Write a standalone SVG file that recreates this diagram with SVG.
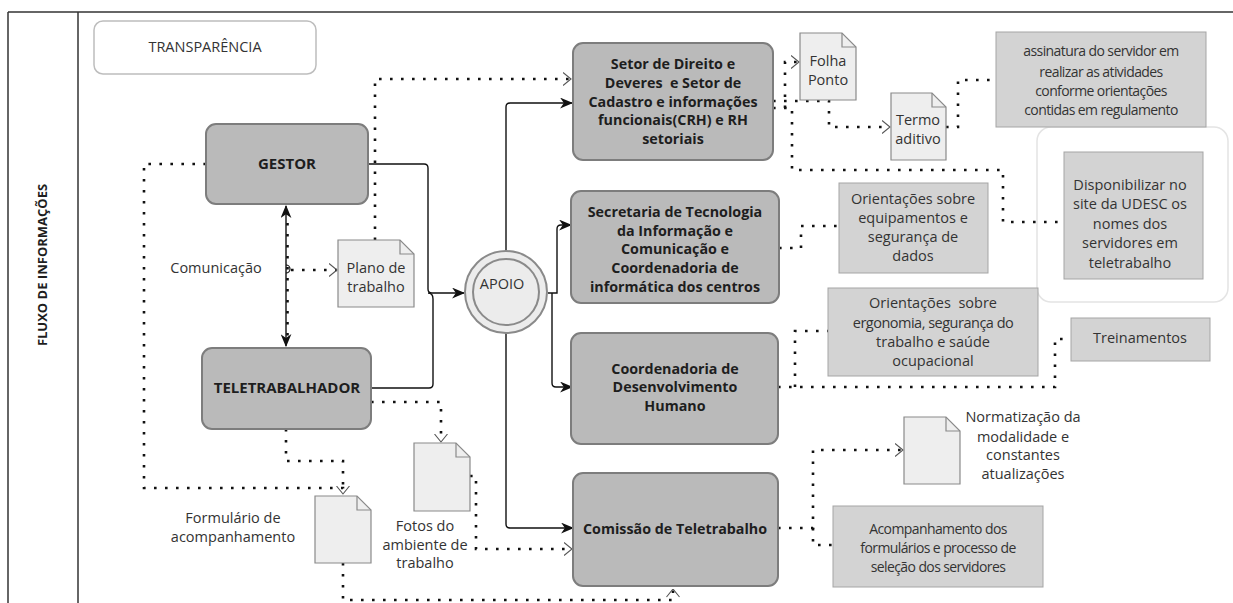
<svg xmlns="http://www.w3.org/2000/svg" width="1233" height="603" viewBox="0 0 1233 603">
<style>
text{font-family:"Open Sans","Noto Sans",sans-serif;fill:#333;text-anchor:middle}
.reg{font-size:14.5px}
.tight{font-size:14px;letter-spacing:-0.6px}
.bold{font-size:14.3px;font-weight:bold;fill:#1e1e1e}
.big{font-size:15px;font-weight:bold;fill:#1e1e1e}
.lane{font-size:13px;font-weight:bold;fill:#1e1e1e}
.main{fill:#bababa;stroke:#7d7d7d;stroke-width:2}
.info{fill:#d3d3d3;stroke:#a5a5a5;stroke-width:1}
.doc{fill:#eeeeee;stroke:#8a8a8a;stroke-width:1.2}
.fold{fill:none;stroke:#8a8a8a;stroke-width:1.2}
.solid{fill:none;stroke:#111;stroke-width:1.4}
.dot{fill:none;stroke:#111;stroke-width:2.6;stroke-dasharray:2.6 8.4}
.frame{fill:none;stroke:#333;stroke-width:1.5}
</style>
<defs>
<marker id="fa" viewBox="0 0 12 10" markerWidth="13" markerHeight="11" refX="11" refY="5" orient="auto" markerUnits="userSpaceOnUse">
<path d="M0,0 L12,5 L0,10 L3.5,5 Z" fill="#111"/>
</marker>
<marker id="fas" viewBox="0 0 12 10" markerWidth="13" markerHeight="11" refX="11" refY="5" orient="auto-start-reverse" markerUnits="userSpaceOnUse">
<path d="M0,0 L12,5 L0,10 L3.5,5 Z" fill="#111"/>
</marker>
<marker id="oa" viewBox="0 0 9 14" markerWidth="9" markerHeight="14" refX="8.5" refY="7" orient="auto" markerUnits="userSpaceOnUse">
<path d="M0.5,0.5 L8.5,7 L0.5,13.5" fill="none" stroke="#555" stroke-width="1.1"/>
</marker>
</defs>

<g id="frame">
<line class="frame" x1="8" y1="12" x2="1233" y2="12"/>
<line class="frame" x1="8" y1="12" x2="8" y2="603"/>
<line class="frame" x1="78" y1="12" x2="78" y2="603"/>
<text class="lane" transform="translate(47,265) rotate(-90)">FLUXO DE INFORMAÇÕES</text>
</g>

<g id="transparencia">
<rect x="94" y="21" width="222" height="53" rx="9" fill="#fff" stroke="#bdbdbd" stroke-width="1.5"/>
<text class="reg" x="205" y="52">TRANSPARÊNCIA</text>
</g>

<g id="disponibilizar-container">
<rect x="1037" y="127" width="191" height="175" rx="14" fill="#fff" stroke="#e4e4e4" stroke-width="1.5"/>
</g>

<g id="connectors">
<path class="solid" d="M368,164 H424 Q428,164 428,168 V289 Q428,293 432,293 H464" marker-end="url(#fa)"/>
<path class="solid" d="M371,388 H429 Q433,388 433,384 V299 Q433,293 428,293"/>
<path class="solid" d="M506,252 V107 Q506,103 510,103 H572" marker-end="url(#fa)"/>
<path class="solid" d="M548,293 H557 V229 Q557,225 561,225 H571" marker-end="url(#fa)"/>
<path class="solid" d="M552,293 V383 Q552,387 556,387 H572" marker-end="url(#fa)"/>
<path class="solid" d="M506,333 V524 Q506,528 510,528 H573" marker-end="url(#fa)"/>
<path class="solid" d="M286,206 V346" marker-start="url(#fas)" marker-end="url(#fas)"/>
<path class="dot" d="M287.5,212 V342"/>
<path d="M286,265 A4,4 0 0 1 286,273" fill="none" stroke="#111" stroke-width="1.2"/>
<path class="dot" d="M291,270 H337" marker-end="url(#oa)"/>
<path class="dot" d="M375,240 V79 H571" marker-end="url(#oa)"/>
<path class="dot" d="M206,164 H144 V488 H343 V494" marker-end="url(#oa)"/>
<path class="dot" d="M286,429 V461 H343 V488"/>
<path class="dot" d="M371,402 H441 V442" marker-end="url(#oa)"/>
<path class="dot" d="M470,476 H476 V549 H572" marker-end="url(#oa)"/>
<path class="dot" d="M343,563 V600 H673 V589" marker-end="url(#oa)"/>
<path class="dot" d="M785,108 V62 H799" marker-end="url(#oa)"/>
<path class="dot" d="M773,101 H829 V127 H890" marker-end="url(#oa)"/>
<path class="dot" d="M773,108 H792 V170 H1003 V222 H1063"/>
<path class="dot" d="M946,127 H958 V80 H995"/>
<path class="dot" d="M779,248 H801 V226 H839"/>
<path class="dot" d="M778,387 H1055 V339 H1071"/>
<path class="dot" d="M795,387 V331 H828"/>
<path class="dot" d="M778,528 H813 V450 H903" marker-end="url(#oa)"/>
<path class="dot" d="M813,528 V545 H833"/>
</g>

<g id="gestor">
<rect class="main" x="206" y="124" width="162" height="80" rx="10"/>
<text class="big" x="287" y="169">GESTOR</text>
</g>

<g id="teletrabalhador">
<rect class="main" x="202" y="348" width="169" height="81" rx="10"/>
<text class="big" x="287" y="393">TELETRABALHADOR</text>
</g>

<g id="comunicacao">
<text class="reg" x="216" y="273">Comunicação</text>
</g>

<g id="plano">
<path class="doc" d="M338,240 H400 L414,254 V307 H338 Z"/>
<path class="fold" d="M400,240 V254 H414"/>
<text class="reg" x="376" y="273">Plano de</text>
<text class="reg" x="376" y="292">trabalho</text>
</g>

<g id="apoio">
<circle cx="506" cy="292" r="41" fill="#ececec" stroke="#8a8a8a" stroke-width="2"/>
<circle cx="506" cy="292" r="33" fill="#ececec" stroke="#8a8a8a" stroke-width="2"/>
<text class="reg" x="502" y="289">APOIO</text>
</g>

<g id="setor">
<rect class="main" x="573" y="43" width="200" height="117" rx="10"/>
<text class="bold" x="673" y="69">Setor de Direito e</text>
<text class="bold" x="673" y="88" xml:space="preserve">Deveres  e Setor de</text>
<text class="bold" x="673" y="107">Cadastro e informações</text>
<text class="bold" x="673" y="125">funcionais(CRH) e RH</text>
<text class="bold" x="673" y="144">setoriais</text>
</g>

<g id="secretaria">
<rect class="main" x="571" y="191" width="208" height="112" rx="10"/>
<text class="bold" x="675" y="217">Secretaria de Tecnologia</text>
<text class="bold" x="675" y="236">da Informação e</text>
<text class="bold" x="675" y="254">Comunicação e</text>
<text class="bold" x="675" y="273">Coordenadoria de</text>
<text class="bold" x="675" y="292">informática dos centros</text>
</g>

<g id="coord-dh">
<rect class="main" x="571" y="333" width="207" height="111" rx="10"/>
<text class="bold" x="675" y="374">Coordenadoria de</text>
<text class="bold" x="675" y="392">Desenvolvimento</text>
<text class="bold" x="675" y="411">Humano</text>
</g>

<g id="comissao">
<rect class="main" x="573" y="473" width="205" height="113" rx="10"/>
<text class="bold" x="675" y="534">Comissão de Teletrabalho</text>
</g>

<g id="formulario">
<path class="doc" d="M315,496 H357 L371,510 V563 H315 Z"/>
<path class="fold" d="M357,496 V510 H371"/>
<text class="reg" x="233" y="523">Formulário de</text>
<text class="reg" x="233" y="542">acompanhamento</text>
</g>

<g id="fotos">
<path class="doc" d="M414,443 H456 L470,457 V511 H414 Z"/>
<path class="fold" d="M456,443 V457 H470"/>
<text class="reg" x="425" y="531">Fotos do</text>
<text class="reg" x="425" y="550">ambiente de</text>
<text class="reg" x="425" y="568">trabalho</text>
</g>

<g id="folha-ponto">
<path class="doc" d="M800,33 H842 L856,47 V100 H800 Z"/>
<path class="fold" d="M842,33 V47 H856"/>
<text class="reg" x="828" y="66">Folha</text>
<text class="reg" x="828" y="85">Ponto</text>
</g>

<g id="termo">
<path class="doc" d="M891,93 H932 L946,107 V160 H891 Z"/>
<path class="fold" d="M932,93 V107 H946"/>
<text class="reg" x="918" y="125">Termo</text>
<text class="reg" x="918" y="144">aditivo</text>
</g>

<g id="assinatura">
<rect class="info" x="996" y="32" width="210" height="95"/>
<text class="tight" x="1101" y="56">assinatura do servidor em</text>
<text class="tight" x="1101" y="77">realizar as atividades</text>
<text class="tight" x="1101" y="96">conforme orientações</text>
<text class="tight" x="1101" y="115">contidas em regulamento</text>
</g>

<g id="disponibilizar">
<rect class="info" x="1064" y="152" width="139" height="127"/>
<text class="reg" x="1130" y="190">Disponibilizar no</text>
<text class="reg" x="1130" y="209">site da UDESC os</text>
<text class="reg" x="1130" y="229">nomes dos</text>
<text class="reg" x="1130" y="248">servidores em</text>
<text class="reg" x="1130" y="268">teletrabalho</text>
</g>

<g id="orient-equip">
<rect class="info" x="839" y="183" width="149" height="90"/>
<text class="reg" x="913" y="204">Orientações sobre</text>
<text class="reg" x="913" y="223">equipamentos e</text>
<text class="reg" x="913" y="242">segurança de</text>
<text class="reg" x="913" y="261">dados</text>
</g>

<g id="orient-ergo">
<rect class="info" x="828" y="288" width="210" height="88"/>
<text class="reg" x="933" y="308" xml:space="preserve">Orientações  sobre</text>
<text class="reg" x="933" y="328" letter-spacing="-0.5">ergonomia, segurança do</text>
<text class="reg" x="933" y="347">trabalho e saúde</text>
<text class="reg" x="933" y="366">ocupacional</text>
</g>

<g id="treinamentos">
<rect class="info" x="1071" y="318" width="139" height="43"/>
<text class="reg" x="1140" y="343">Treinamentos</text>
</g>

<g id="normatizacao">
<path class="doc" d="M904,417 H946 L960,431 V484 H904 Z"/>
<path class="fold" d="M946,417 V431 H960"/>
<text class="reg" x="1023" y="422">Normatização da</text>
<text class="reg" x="1023" y="442">modalidade e</text>
<text class="reg" x="1023" y="460">constantes</text>
<text class="reg" x="1023" y="479">atualizações</text>
</g>

<g id="acompanhamento">
<rect class="info" x="833" y="506" width="210" height="81"/>
<text class="tight" x="938" y="534" letter-spacing="-0.2">Acompanhamento dos</text>
<text class="tight" x="938" y="553" letter-spacing="-0.2">formulários e processo de</text>
<text class="tight" x="938" y="572" letter-spacing="-0.2">seleção dos servidores</text>
</g>
</svg>
